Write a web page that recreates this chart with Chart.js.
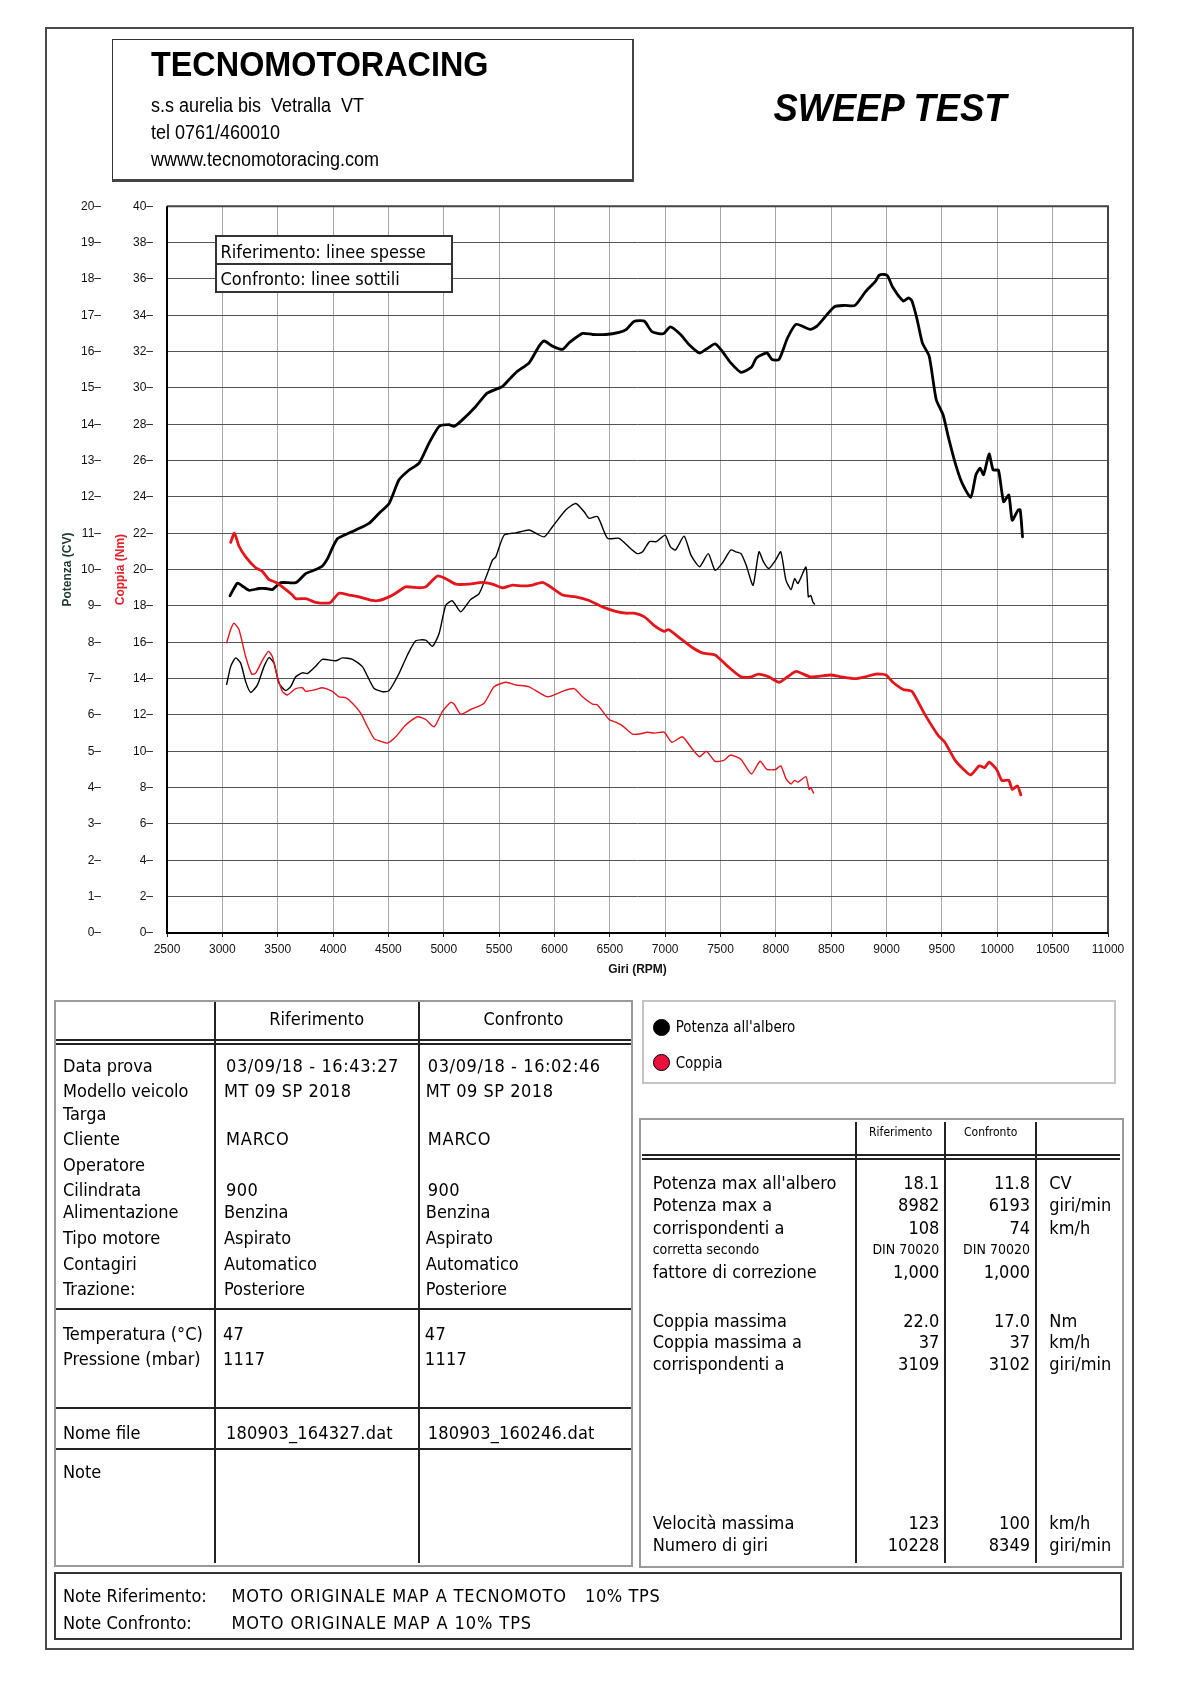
<!DOCTYPE html>
<html><head><meta charset="utf-8">
<script src="https://cdn.jsdelivr.net/npm/chart.js@4.4.1/dist/chart.umd.min.js"></script>
<style>
html,body{margin:0;padding:0;background:#fff;}
#page{position:relative;width:1191px;height:1684px;overflow:hidden;background:#fff;}
</style></head><body><div id="page">
<div id="chartwrap" style="position:absolute;left:50px;top:185px;width:1080px;height:815px;"><canvas id="c" width="1080" height="815"></canvas></div>
</div>
<script>
// ---------------- DATA ----------------
const rpmTickStep = 500;
const rifPotRpm = [3069,3136,3180,3241,3331,3392,3452,3527,3663,3753,3843,3904,3950,3994,4040,4069,4205,4325,4416,4506,4596,4687,4777,4867,4958,5048,5093,5168,5289,5395,5530,5590,5666,5771,5861,5907,5982,6072,6132,6253,6343,6464,6584,6650,6718,6811,6880,6983,7046,7139,7217,7311,7373,7451,7514,7592,7685,7779,7826,7919,7966,8028,8106,8184,8309,8371,8527,8621,8714,8808,8901,8933,8982,9010,9057,9151,9198,9229,9276,9323,9385,9448,9510,9557,9620,9682,9760,9807,9845,9876,9926,9963,10010,10057,10104,10135,10188,10207,10228];
const rifPotCV = [9.28,9.63,9.55,9.43,9.48,9.48,9.45,9.64,9.64,9.89,10.00,10.10,10.30,10.60,10.85,10.90,11.09,11.27,11.55,11.82,12.47,12.74,12.93,13.48,13.94,13.99,13.94,14.12,14.49,14.86,15.04,15.23,15.46,15.69,16.15,16.29,16.15,16.06,16.24,16.50,16.47,16.47,16.53,16.61,16.83,16.84,16.55,16.49,16.68,16.47,16.19,15.96,16.07,16.21,16.01,15.69,15.43,15.57,15.83,15.96,15.78,15.78,16.38,16.75,16.61,16.70,17.23,17.27,17.27,17.64,17.94,18.10,18.12,18.08,17.76,17.39,17.48,17.39,16.88,16.24,15.87,14.68,14.26,13.66,12.93,12.38,11.99,12.61,12.79,12.61,13.18,12.74,12.74,11.87,12.05,11.36,11.64,11.64,10.90];

const rifCopRpm = [3075,3109,3150,3211,3301,3361,3422,3482,3542,3633,3663,3753,3843,3934,3979,4054,4145,4235,4355,4416,4506,4566,4656,4777,4837,4943,5018,5108,5229,5349,5440,5530,5620,5711,5801,5892,5952,6072,6193,6313,6434,6554,6644,6718,6812,6905,6990,7030,7139,7248,7342,7451,7560,7685,7779,7841,7935,8028,8106,8184,8309,8496,8590,8714,8808,8901,8995,9057,9151,9229,9339,9463,9526,9620,9713,9760,9838,9885,9926,9994,10041,10104,10135,10182,10213];
const rifCopNm = [21.5,22.0,21.3,20.7,20.1,19.9,19.45,19.3,19.05,18.6,18.4,18.4,18.2,18.15,18.2,18.7,18.6,18.5,18.3,18.3,18.5,18.7,19.05,19.0,19.05,19.65,19.5,19.2,19.2,19.3,19.2,19.0,19.15,19.1,19.15,19.3,19.1,18.6,18.5,18.3,17.95,17.7,17.6,17.6,17.4,16.9,16.6,16.7,16.2,15.7,15.4,15.3,14.7,14.1,14.1,14.25,14.1,13.8,14.1,14.4,14.1,14.2,14.1,14.0,14.1,14.25,14.2,13.8,13.4,13.3,12.1,10.9,10.5,9.5,8.9,8.7,9.2,9.1,9.4,9.0,8.4,8.4,7.9,8.1,7.6];

const confPotRpm = [3039,3075,3120,3166,3211,3256,3316,3376,3422,3467,3512,3572,3617,3663,3723,3768,3843,3904,4024,4084,4175,4265,4310,4371,4446,4506,4596,4672,4747,4837,4898,4958,5018,5078,5153,5243,5319,5394,5440,5470,5545,5651,5771,5831,5907,5982,6102,6193,6268,6313,6389,6479,6584,6687,6750,6796,6859,6921,7000,7046,7093,7171,7233,7311,7389,7451,7514,7592,7638,7685,7732,7794,7847,7888,7935,7997,8044,8091,8137,8169,8200,8272,8293,8315,8334,8349];
const confPotCV = [6.84,7.33,7.57,7.42,6.91,6.62,6.82,7.33,7.58,7.42,6.87,6.67,6.78,7.05,7.16,7.14,7.34,7.53,7.49,7.57,7.53,7.33,7.07,6.73,6.64,6.67,7.14,7.65,8.04,8.06,7.89,8.24,9.02,9.14,8.84,9.18,9.34,9.89,10.26,10.35,10.95,11.01,11.09,11.0,10.9,11.18,11.64,11.82,11.59,11.41,11.46,10.86,10.86,10.58,10.44,10.49,10.77,10.77,10.95,10.63,10.54,10.92,10.40,10.08,10.44,9.98,10.17,10.54,10.49,10.44,10.12,9.57,10.49,10.21,10.03,10.26,10.49,9.71,9.45,9.75,9.62,10.07,9.25,9.29,9.11,9.05];

const confCopRpm = [3039,3075,3105,3150,3211,3265,3301,3361,3416,3452,3497,3542,3587,3663,3723,3753,3843,3904,3994,4054,4114,4175,4250,4295,4371,4431,4491,4566,4656,4762,4837,4913,4988,5063,5093,5153,5243,5364,5454,5560,5651,5771,5937,6072,6178,6253,6343,6389,6494,6554,6614,6705,6765,6840,6905,6990,7061,7155,7248,7311,7373,7451,7529,7592,7685,7779,7857,7919,7997,8044,8091,8137,8169,8200,8272,8300,8315,8340];
const confCopNm = [15.97,16.7,17.05,16.7,15.2,14.25,14.3,15.0,15.5,15.2,14.1,13.3,13.1,13.45,13.5,13.3,13.4,13.5,13.3,13.0,12.95,12.65,12.1,11.55,10.7,10.55,10.45,10.8,11.45,11.9,11.75,11.35,12.2,12.7,12.6,12.05,12.3,12.65,13.55,13.8,13.65,13.55,13.0,13.3,13.45,13.0,12.6,12.55,11.75,11.6,11.4,10.95,10.95,11.05,11.0,11.05,10.5,10.8,10.1,9.7,10.0,9.45,9.5,9.8,9.55,8.75,9.45,9.0,9.0,9.2,8.5,8.2,8.4,8.3,8.6,7.9,8.0,7.7];

// ---------------- LAYOUT HELPERS ----------------
const page = document.getElementById('page');
const DJ = "'DejaVu Sans Condensed','DejaVu Sans',sans-serif";
const LIB = "'Liberation Sans',Arial,sans-serif";
function txt(x, y, s, size, o = {}) {
  const d = document.createElement('div');
  d.textContent = s;
  const h = Math.round(size * 1.6);
  let css = `position:absolute;top:${y - h / 2}px;height:${h}px;line-height:${h}px;font-size:${size}px;white-space:pre;` +
    `font-family:${o.ff || DJ};color:${o.color || '#000'};font-weight:${o.w || 'normal'};font-style:${o.it ? 'italic' : 'normal'};` +
    `font-stretch:${o.ff ? 'normal' : 'condensed'};letter-spacing:${o.ls || 0}px;z-index:5;`;
  let origin = 'left';
  if (o.align === 'right') { css += `left:${x - 600}px;width:600px;text-align:right;`; origin = 'right'; }
  else if (o.align === 'center') { css += `left:${x - 300}px;width:600px;text-align:center;`; origin = 'center'; }
  else css += `left:${x}px;`;
  if (o.sx) css += `transform:scaleX(${o.sx});transform-origin:${origin} center;`;
  d.style.cssText = css;
  page.appendChild(d);
}
function rect(x, y, w, h, color) {
  const d = document.createElement('div');
  d.style.cssText = `position:absolute;left:${x}px;top:${y}px;width:${w}px;height:${h}px;background:${color};z-index:4;`;
  page.appendChild(d);
}
function box(x, y, w, h, bw, color, bg) {
  const d = document.createElement('div');
  d.style.cssText = `position:absolute;left:${x}px;top:${y}px;width:${w}px;height:${h}px;box-sizing:border-box;border:${bw}px solid ${color};${bg ? 'background:' + bg + ';' : ''}z-index:3;`;
  page.appendChild(d);
  return d;
}
function dot(cx, cy, r, fill) {
  const d = document.createElement('div');
  d.style.cssText = `position:absolute;left:${cx - r}px;top:${cy - r}px;width:${2 * r}px;height:${2 * r}px;box-sizing:border-box;border-radius:50%;border:1.5px solid #000;background:${fill};z-index:5;`;
  page.appendChild(d);
}

// page frame
box(45, 27, 1089, 1623, 2, '#4a4a4a');
// header
const hb = box(112, 39, 522, 143, 1, '#333');
hb.style.borderRight = '2px solid #444'; hb.style.borderBottom = '3px solid #444';
txt(151, 64, 'TECNOMOTORACING', 35, { ff: LIB, w: 'bold', sx: 0.925 });
txt(151, 105, 's.s aurelia bis  Vetralla  VT', 20, { ff: LIB, sx: 0.9 });
txt(151, 132, 'tel 0761/460010', 20, { ff: LIB, sx: 0.9 });
txt(151, 159, 'wwww.tecnomotoracing.com', 20, { ff: LIB, sx: 0.9 });
txt(890, 108, 'SWEEP TEST', 38.5, { ff: LIB, w: 'bold', it: true, sx: 0.945, align: 'center' });

// legend box inside plot
box(215, 235, 238, 58, 2, '#333', '#fff');
rect(216, 262.5, 236, 2, '#333');
txt(220.5, 251, 'Riferimento: linee spesse', 18);
txt(220.5, 278, 'Confronto: linee sottili', 18);

// left info table
box(54, 1000, 579, 567, 2, '#9a9a9a');
rect(56, 1039, 575, 2, '#222'); rect(56, 1043, 575, 2, '#222');
rect(213.5, 1002, 2, 561, '#222'); rect(418, 1002, 2, 561, '#222');
rect(56, 1308, 575, 2, '#222'); rect(56, 1407, 575, 2, '#222'); rect(56, 1448, 575, 2, '#222');
txt(316.7, 1018, 'Riferimento', 18, { align: 'center' });
txt(523.4, 1018, 'Confronto', 18, { align: 'center' });
const leftRows = [
  [1065, 'Data prova', '03/09/18 - 16:43:27', '03/09/18 - 16:02:46', 2, 0.6],
  [1090, 'Modello veicolo', 'MT 09 SP 2018', 'MT 09 SP 2018', 0, 0.5],
  [1113.5, 'Targa', '', '', 0, 0],
  [1138.5, 'Cliente', 'MARCO', 'MARCO', 2, 0.8],
  [1164, 'Operatore', '', '', 0, 0],
  [1189, 'Cilindrata', '900', '900', 2, 0.4],
  [1211.5, 'Alimentazione', 'Benzina', 'Benzina', 0, 0],
  [1237.5, 'Tipo motore', 'Aspirato', 'Aspirato', 0, 0],
  [1263, 'Contagiri', 'Automatico', 'Automatico', 0, 0],
  [1288, 'Trazione:', 'Posteriore', 'Posteriore', 0, 0],
  [1333.5, 'Temperatura (°C)', '47', '47', -1, 0.3],
  [1358.5, 'Pressione (mbar)', '1117', '1117', -1, 0.3],
  [1432, 'Nome file', '180903_164327.dat', '180903_160246.dat', 2, 0.2],
  [1471.5, 'Note', '', '', 0, 0]
];
leftRows.forEach(r => {
  txt(63, r[0], r[1], 18);
  if (r[2]) txt(224 + r[4], r[0], r[2], 18, { ls: r[5] });
  if (r[3]) txt(425.8 + r[4], r[0], r[3], 18, { ls: r[5] });
});

// legend of curves
box(642, 1000, 474, 84, 2, '#c4c4c4');
dot(661.7, 1027.3, 8.3, '#000');
dot(661.7, 1062.7, 8.3, '#e8113c');
txt(675.7, 1027.3, "Potenza all'albero", 15);
txt(675.7, 1062.7, 'Coppia', 15);

// right results table
box(639, 1118, 485, 450, 2, '#9a9a9a');
rect(854.7, 1122, 2, 441, '#222'); rect(944, 1122, 2, 441, '#222'); rect(1035, 1122, 2, 441, '#222');
rect(642, 1154, 478, 2, '#222'); rect(642, 1158, 478, 2, '#222');
txt(900.7, 1132.5, 'Riferimento', 12, { align: 'center' });
txt(990.7, 1132.5, 'Confronto', 12, { align: 'center' });
const rightRows = [
  [1182.7, "Potenza max all'albero", '18.1', '11.8', 'CV', 18],
  [1204.5, 'Potenza max a', '8982', '6193', 'giri/min', 18],
  [1227.3, 'corrispondenti a', '108', '74', 'km/h', 18],
  [1249.3, 'corretta secondo', 'DIN 70020', 'DIN 70020', '', 14],
  [1271.7, 'fattore di correzione', '1,000', '1,000', '', 18],
  [1320, 'Coppia massima', '22.0', '17.0', 'Nm', 18],
  [1341.7, 'Coppia massima a', '37', '37', 'km/h', 18],
  [1363.3, 'corrispondenti a', '3109', '3102', 'giri/min', 18],
  [1522.3, 'Velocità massima', '123', '100', 'km/h', 18],
  [1544.3, 'Numero di giri', '10228', '8349', 'giri/min', 18]
];
rightRows.forEach(r => {
  txt(652.7, r[0], r[1], r[5]);
  txt(939.3, r[0], r[2], r[5], { align: 'right' });
  txt(1030, r[0], r[3], r[5], { align: 'right' });
  if (r[4]) txt(1049.3, r[0], r[4], 18);
});

// notes box
box(54, 1572, 1068, 68, 2, '#333');
txt(63, 1595, 'Note Riferimento:', 18);
txt(231.4, 1595, 'MOTO ORIGINALE MAP A TECNOMOTO', 18, { ls: 0.85 });
txt(585, 1595, '10% TPS', 18, { ls: 0.6 });
txt(63, 1622, 'Note Confronto:', 18);
txt(231.4, 1622, 'MOTO ORIGINALE MAP A 10% TPS', 18, { ls: 0.9 });

// ---------------- CHART ----------------
const RED = '#e3161c';
const pts = (xs, ys) => xs.map((x, i) => ({ x: x, y: ys[i] }));
Chart.defaults.font.family = "'Liberation Sans', Arial, sans-serif";
const frame = {
  id: 'frame',
  beforeDatasetsDraw(chart) {
    const { ctx, chartArea: a } = chart;
    ctx.save();
    ctx.lineWidth = 2;
    ctx.strokeStyle = '#444';
    ctx.beginPath(); ctx.moveTo(a.left, a.top); ctx.lineTo(a.right, a.top); ctx.lineTo(a.right, a.bottom); ctx.stroke();
    ctx.strokeStyle = '#000';
    ctx.beginPath(); ctx.moveTo(a.left, a.top); ctx.lineTo(a.left, a.bottom); ctx.lineTo(a.right, a.bottom); ctx.stroke();
    ctx.restore();
  }
};
const tickFont = { size: 12 };
new Chart(document.getElementById('c'), {
  type: 'line',
  data: {
    datasets: [
      { label: 'Coppia Riferimento', data: pts(rifCopRpm, rifCopNm), yAxisID: 'nm', borderColor: RED, borderWidth: 2.8 },
      { label: 'Coppia Confronto', data: pts(confCopRpm, confCopNm), yAxisID: 'nm', borderColor: RED, borderWidth: 1.4 },
      { label: 'Potenza Riferimento', data: pts(rifPotRpm, rifPotCV), yAxisID: 'cv', borderColor: '#000', borderWidth: 2.8 },
      { label: 'Potenza Confronto', data: pts(confPotRpm, confPotCV), yAxisID: 'cv', borderColor: '#000', borderWidth: 1.4 }
    ]
  },
  options: {
    responsive: false, animation: false, devicePixelRatio: 1,
    layout: { padding: { top: 11, right: 22, left: 0, bottom: 0 } },
    plugins: { legend: { display: false }, tooltip: { enabled: false } },
    elements: { point: { radius: 0 }, line: { tension: 0.2, borderJoinStyle: 'round', borderCapStyle: 'round', fill: false } },
    scales: {
      x: {
        type: 'linear', min: 2500, max: 11000,
        ticks: { stepSize: rpmTickStep, autoSkip: false, maxRotation: 0, padding: 5, color: '#111', font: tickFont, callback: v => String(v) },
        grid: { color: '#a8a8a8', lineWidth: 1, tickLength: 4, tickColor: '#222' },
        border: { display: false },
        title: { display: true, text: 'Giri (RPM)', color: '#111', font: { size: 12, weight: 'bold' }, padding: { top: 0, bottom: 23 } },
        afterFit: s => { s.height = 67; }
      },
      nm: {
        position: 'left', weight: 0, min: 0, max: 40,
        ticks: { stepSize: 2, padding: 14, color: '#111', font: tickFont, callback: v => v + '–' },
        grid: { color: '#555', lineWidth: 1, drawTicks: false },
        border: { display: false },
        title: { display: true, text: 'Coppia (Nm)', color: '#e8202a', font: { size: 12, weight: 'bold' }, padding: { top: 0, bottom: 0 } },
        afterFit: s => { s.width = 54; }
      },
      cv: {
        position: 'left', weight: 1, min: 0, max: 20,
        ticks: { stepSize: 1, padding: 12, color: '#111', font: tickFont, callback: v => v + '–' },
        grid: { display: false, drawTicks: false },
        border: { display: false },
        title: { display: true, text: 'Potenza (CV)', color: '#1d3a30', font: { size: 12, weight: 'bold' }, padding: { top: 10, bottom: 0 } },
        afterFit: s => { s.width = 63; }
      }
    }
  },
  plugins: [frame]
});
</script>
</body></html>
